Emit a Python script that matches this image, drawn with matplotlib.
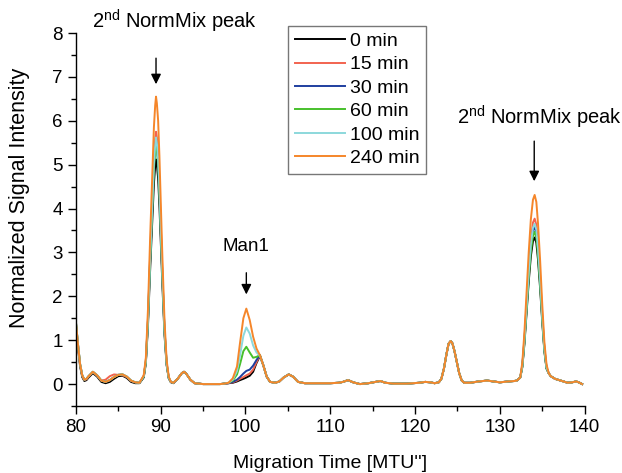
import numpy as np
import matplotlib
matplotlib.use("Agg")
import matplotlib.pyplot as plt
from matplotlib.ticker import MultipleLocator

plt.rcParams['font.family'] = ['Liberation Sans', 'DejaVu Sans']
plt.rcParams['mathtext.default'] = 'regular'

# migration time grid, split into pieces (shared baseline parts + peaks)
x_lead = [80.0, 80.25, 80.5, 80.75, 81.0, 81.25, 81.5, 82.0, 82.5, 83.0, 83.5, 84.0,
          84.5, 85.0, 85.5, 86.0, 86.5, 87.0]
x_p1 = [87.5, 88.0, 88.25, 88.5, 88.75, 89.0, 89.2, 89.35, 89.45, 89.55, 89.7, 89.85,
        90.0, 90.2, 90.45, 90.7, 90.95, 91.2, 91.5]
x_mid1 = [92.0, 92.5, 92.75, 93.0, 93.5, 94.0, 95.0, 96.0, 97.0, 97.5]
x_man = [98.0, 98.5, 99.0, 99.35, 99.75, 100.1, 100.5, 100.9, 101.3, 101.7]
x_mid2 = [102.1, 102.5, 102.9, 103.5, 104.0, 104.5, 105.1, 105.6, 106.2, 107.0,
          108.0, 109.0, 110.0, 111.0, 111.5, 112.1, 112.7, 113.5, 114.5, 115.3,
          115.9, 116.5, 117.5, 119.0, 120.5, 121.2, 121.8, 122.3, 122.8, 123.1,
          123.4, 123.7, 123.95, 124.2, 124.4, 124.65, 124.9, 125.2, 125.5, 125.8,
          126.5, 127.5, 128.5, 129.3, 130.0, 131.0, 131.7, 132.0]
x_p3 = [132.4, 132.65, 132.9, 133.15, 133.4, 133.65, 133.9, 134.1, 134.3, 134.5,
        134.75, 135.0, 135.25, 135.5]
x_tail = [135.75, 136.0, 136.5, 137.0, 137.5, 138.0, 138.5, 139.0, 139.3, 139.7]

# baseline parts
lead_all = [1.42, 0.9, 0.45, 0.2, 0.1, 0.12, 0.18, 0.28, 0.2, 0.08, 0.05, 0.09,
            0.16, 0.21, 0.22, 0.17, 0.08, 0.04]
lead_0 = [1.3, 0.82, 0.4, 0.16, 0.07, 0.09, 0.15, 0.25, 0.17, 0.05, 0.02, 0.05,
          0.12, 0.18, 0.19, 0.14, 0.05, 0.02]
lead_15 = [1.38, 0.88, 0.43, 0.19, 0.09, 0.11, 0.17, 0.27, 0.19, 0.08, 0.1, 0.18,
           0.22, 0.21, 0.2, 0.16, 0.07, 0.04]
mid1 = [0.12, 0.25, 0.28, 0.24, 0.1, 0.02, 0.0, 0.0, 0.0, 0.01]
mid2 = [0.43, 0.17, 0.05, 0.03, 0.06, 0.15, 0.22, 0.17, 0.05, 0.02,
        0.02, 0.02, 0.02, 0.03, 0.05, 0.09, 0.04, 0.0, 0.02, 0.05,
        0.07, 0.03, 0.01, 0.01, 0.03, 0.05, 0.04, 0.02, 0.04, 0.12,
        0.35, 0.68, 0.92, 0.98, 0.93, 0.75, 0.52, 0.25, 0.08, 0.03,
        0.03, 0.06, 0.08, 0.06, 0.04, 0.06, 0.07, 0.08]
tail = [0.25, 0.18, 0.12, 0.09, 0.06, 0.03, 0.04, 0.06, 0.04, 0.0]

# first NormMix peak
p1_0 = [0.02, 0.15, 0.47, 1.33, 2.58, 3.68, 4.57, 4.97, 5.12, 5.0, 4.69, 4.07, 3.28, 2.27, 1.13, 0.43, 0.13, 0.04, 0.02]
p1_15 = [0.03, 0.18, 0.53, 1.49, 2.9, 4.13, 5.14, 5.58, 5.75, 5.62, 5.27, 4.57, 3.69, 2.55, 1.27, 0.48, 0.15, 0.05, 0.03]
p1_30 = [0.03, 0.17, 0.51, 1.44, 2.79, 3.98, 4.95, 5.37, 5.54, 5.41, 5.08, 4.4, 3.55, 2.45, 1.23, 0.47, 0.14, 0.05, 0.03]
p1_60 = [0.03, 0.17, 0.5, 1.42, 2.76, 3.93, 4.9, 5.31, 5.48, 5.36, 5.02, 4.35, 3.52, 2.43, 1.21, 0.46, 0.14, 0.05, 0.03]
p1_100 = [0.03, 0.18, 0.52, 1.46, 2.83, 4.03, 5.02, 5.45, 5.62, 5.49, 5.15, 4.46, 3.6, 2.49, 1.24, 0.47, 0.15, 0.05, 0.03]
p1_240 = [0.03, 0.2, 0.6, 1.7, 3.3, 4.7, 5.85, 6.35, 6.55, 6.4, 6.0, 5.2, 4.2, 2.9, 1.45, 0.55, 0.17, 0.05, 0.03]

# Man1 region
man_0 = [0.02, 0.03, 0.06, 0.09, 0.12, 0.15, 0.19, 0.28, 0.48, 0.64]
man_15 = [0.02, 0.04, 0.08, 0.12, 0.16, 0.2, 0.24, 0.33, 0.5, 0.66]
man_30 = [0.02, 0.05, 0.1, 0.16, 0.24, 0.3, 0.33, 0.42, 0.55, 0.66]
man_60 = [0.03, 0.08, 0.22, 0.45, 0.75, 0.85, 0.72, 0.6, 0.62, 0.66]
man_100 = [0.03, 0.1, 0.3, 0.65, 1.1, 1.29, 1.15, 0.88, 0.72, 0.65]
man_240 = [0.03, 0.13, 0.4, 0.93, 1.5, 1.72, 1.46, 1.08, 0.81, 0.66]

# second NormMix peak
p3_0 = [0.15, 0.39, 0.93, 1.63, 2.33, 2.91, 3.26, 3.34, 3.22, 2.83, 2.17, 1.4, 0.74, 0.35]
p3_15 = [0.15, 0.44, 1.05, 1.84, 2.63, 3.28, 3.68, 3.77, 3.63, 3.19, 2.45, 1.58, 0.83, 0.39]
p3_30 = [0.15, 0.42, 1.0, 1.75, 2.49, 3.12, 3.49, 3.58, 3.45, 3.03, 2.33, 1.5, 0.79, 0.37]
p3_60 = [0.15, 0.4, 0.97, 1.69, 2.42, 3.02, 3.38, 3.47, 3.34, 2.94, 2.25, 1.45, 0.76, 0.36]
p3_100 = [0.15, 0.42, 1.02, 1.78, 2.54, 3.18, 3.56, 3.65, 3.52, 3.09, 2.37, 1.52, 0.8, 0.38]
p3_240 = [0.15, 0.5, 1.2, 2.1, 3.0, 3.75, 4.2, 4.31, 4.15, 3.65, 2.8, 1.8, 0.95, 0.45]

labels = ['0 min', '15 min', '30 min', '60 min', '100 min', '240 min']
colors = ['#000000', '#f2634f', '#1f3f9f', '#47c02c', '#8cd8dc', '#f5862a']

x = np.array(x_lead + x_p1 + x_mid1 + x_man + x_mid2 + x_p3 + x_tail)
series = [
    (lead_0, p1_0, man_0, p3_0),
    (lead_15, p1_15, man_15, p3_15),
    (lead_all, p1_30, man_30, p3_30),
    (lead_all, p1_60, man_60, p3_60),
    (lead_all, p1_100, man_100, p3_100),
    (lead_all, p1_240, man_240, p3_240),
]

fig = plt.figure(figsize=(6.22, 4.73), dpi=100)
ax = fig.add_axes([0.122, 0.1416, 0.818, 0.7886])

for (lead, p1, man, p3), lab, col in zip(series, labels, colors):
    y = np.array(lead + p1 + mid1 + man + mid2 + p3 + tail)
    ax.plot(x, y, color=col, lw=1.4, label=lab)

ax.set_xlim(80, 140)
ax.set_ylim(-0.5, 8)
ax.xaxis.set_major_locator(MultipleLocator(10))
ax.xaxis.set_minor_locator(MultipleLocator(5))
ax.yaxis.set_major_locator(MultipleLocator(1))
ax.yaxis.set_minor_locator(MultipleLocator(0.5))
ax.tick_params(which='major', direction='out', length=6, width=1, labelsize=13.5)
ax.tick_params(which='minor', direction='out', length=3.5, width=1)
for s in ['top', 'right']:
    ax.spines[s].set_visible(False)
for s in ['left', 'bottom']:
    ax.spines[s].set_linewidth(1)

ax.set_xlabel("Migration Time [MTU'']", fontsize=14, labelpad=13.5)
ax.set_ylabel('Normalized Signal Intensity', fontsize=15.5)
ax.yaxis.set_label_coords(-0.09, 0.558)

leg = ax.legend(loc='upper left', bbox_to_anchor=(0.4165, 1.02), fontsize=14,
                frameon=True, fancybox=False, handlelength=2.6, handletextpad=0.25,
                labelspacing=0.3, borderpad=0.35, borderaxespad=0)
leg.get_frame().set_edgecolor('#555555')
leg.get_frame().set_linewidth(1)

arrow = dict(arrowstyle='-|>', color='black', lw=1, mutation_scale=15)
ax.annotate('', xy=(89.45, 6.77), xytext=(89.45, 7.49), arrowprops=arrow)
ax.text(91.6, 8.27, r'2$^{nd}$ NormMix peak', fontsize=14.5, ha='center', va='center')
ax.annotate('', xy=(100.1, 1.98), xytext=(100.1, 2.6), arrowprops=arrow)
ax.text(100.0, 3.14, 'Man1', fontsize=13.5, ha='center', va='center')
ax.annotate('', xy=(134.05, 4.56), xytext=(134.05, 5.6), arrowprops=arrow)
ax.text(134.7, 6.08, r'2$^{nd}$ NormMix peak', fontsize=14.5, ha='center', va='center')

fig.savefig('out.png', dpi=100)
